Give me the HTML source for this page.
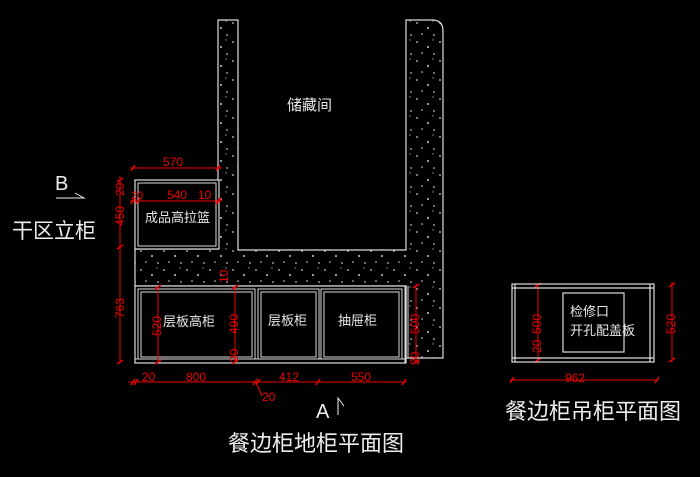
<!DOCTYPE html>
<html><head><meta charset="utf-8"><style>
html,body{margin:0;padding:0;background:#000;}
svg{display:block}
text{font-family:"Liberation Sans","Noto Sans CJK SC",sans-serif;}
</style></head><body>
<svg width="700" height="477" viewBox="0 0 700 477" xmlns="http://www.w3.org/2000/svg">
<defs>
<pattern id="h" width="23" height="19" patternUnits="userSpaceOnUse">
<rect width="23" height="19" fill="#000"/>
<circle cx="3" cy="4" r="0.9" fill="#ccc"/>
<circle cx="14" cy="9" r="1.1" fill="#aaa"/>
<circle cx="8" cy="15" r="0.8" fill="#ddd"/>
<circle cx="19" cy="2" r="0.7" fill="#999"/>
<circle cx="20" cy="16" r="0.9" fill="#bbb"/>
</pattern>
</defs>
<rect width="700" height="477" fill="#000"/>
<!-- hatched walls -->
<path d="M218 20 H238 V250 H406 V20 H432 Q443 20 443 31 V358 H406 V286 H135 V249 H218 Z" fill="url(#h)" stroke="#ddd" stroke-width="1.2"/>
<!-- tall basket cabinet -->
<rect x="135" y="180" width="84" height="69" fill="#000" stroke="#ddd" stroke-width="1.2"/>
<rect x="138" y="183" width="78" height="63" fill="none" stroke="#ddd" stroke-width="1"/>
<!-- base cabinets -->
<rect x="135" y="286" width="271" height="77" fill="#000" stroke="#ddd" stroke-width="1.2"/>
<g fill="none" stroke="#ddd" stroke-width="1">
<rect x="138" y="289" width="117" height="70"/>
<rect x="141" y="292" width="111" height="65"/>
<rect x="258" y="289" width="61" height="70"/>
<rect x="261" y="292" width="55" height="65"/>
<rect x="321" y="289" width="81" height="70"/>
<rect x="324" y="292" width="75" height="65"/>
<line x1="405" y1="286" x2="405" y2="363"/>
<line x1="408" y1="286" x2="408" y2="358"/>
<line x1="135" y1="359" x2="406" y2="359"/>
</g>
<g fill="#e8e8e8" font-size="13">
<text x="145" y="222">成品高拉篮</text>
<text x="163" y="326">层板高柜</text>
<text x="268" y="325">层板柜</text>
<text x="338" y="325">抽屉柜</text>
<text x="287" y="110" font-size="15">储藏间</text>
</g>
<!-- red dims -->
<g stroke="#e00" stroke-width="1" fill="none">
<line x1="130" y1="168" x2="222" y2="168"/>
<line x1="130" y1="201" x2="222" y2="201"/>
<line x1="120" y1="176" x2="120" y2="363"/>
<line x1="158" y1="286" x2="158" y2="363"/>
<line x1="235" y1="286" x2="235" y2="363"/>
<line x1="416" y1="284" x2="416" y2="362"/>
<line x1="128" y1="382" x2="407" y2="382"/>
<line x1="256" y1="382" x2="262" y2="396"/>
<line x1="538" y1="284" x2="538" y2="362"/>
<line x1="672" y1="282" x2="672" y2="362"/>
<line x1="510" y1="380" x2="658" y2="380"/>
<g stroke-width="1.5">
<path d="M131 171l4-6M216 171l4-6M131 204l4-6M136 204l4-6M216 204l4-6M217 204l4-6"/>
<path d="M117 182l6-4M117 249l6-4M117 364l6-4M155 289l6-4M155 364l6-4M232 289l6-4M232 364l6-4M413 288l6-4M413 364l6-4"/>
<path d="M131 385l4-6M134 385l4-6M253 385l4-6M256 385l4-6M316 385l4-6M402 385l4-6"/>
<path d="M535 287l6-4M535 362l6-4M669 287l6-4M669 362l6-4M510 383l4-6M655 383l4-6"/>
</g>
</g>
<g fill="#e00" font-size="12">
<text x="163" y="166">570</text>
<text x="131" y="199" font-size="11">20</text>
<text x="167" y="199">540</text>
<text x="198" y="199">10</text>
<text x="142" y="381">20</text>
<text x="186" y="381">800</text>
<text x="279" y="381">412</text>
<text x="351" y="381">550</text>
<text x="262" y="401">20</text>
<text x="565" y="382">962</text>
<g font-size="12">
<text transform="translate(124,196) rotate(-90)">20</text>
<text transform="translate(124,226) rotate(-90)">450</text>
<text transform="translate(124,318) rotate(-90)">763</text>
<text transform="translate(161,336) rotate(-90)">520</text>
<text transform="translate(238,334) rotate(-90)">490</text>
<text transform="translate(228,283) rotate(-90)">10</text>
<text transform="translate(238,362) rotate(-90)">20</text>
<text transform="translate(419,334) rotate(-90)">500</text>
<text transform="translate(419,365) rotate(-90)">20</text>
<text transform="translate(541,334) rotate(-90)">500</text>
<text transform="translate(541,353) rotate(-90)">20</text>
<text transform="translate(675,334) rotate(-90)">520</text>
</g>
</g>
<!-- hanging cabinet -->
<g fill="none" stroke="#ddd" stroke-width="1.2">
<rect x="512" y="284" width="142" height="78"/>
<line x1="512" y1="288" x2="654" y2="288"/>
<line x1="515" y1="284" x2="515" y2="362"/>
<line x1="650" y1="284" x2="650" y2="362"/>
<line x1="512" y1="358" x2="654" y2="358"/>
<rect x="563" y="293" width="61" height="59"/>
</g>
<g fill="#e8e8e8" font-size="13">
<text x="570" y="316">检修口</text>
<text x="570" y="335">开孔配盖板</text>
</g>
<!-- labels -->
<g fill="#eee">
<text x="55" y="190" font-size="20" font-family="Liberation Serif,serif">B</text>
<text x="12" y="238" font-size="21">干区立柜</text>
<text x="316" y="418" font-size="20" font-family="Liberation Serif,serif">A</text>
<text x="228" y="451" font-size="22">餐边柜地柜平面图</text>
<text x="505" y="419" font-size="22">餐边柜吊柜平面图</text>
</g>
<g stroke="#eee" stroke-width="1" fill="none">
<path d="M56 198H84L75 193"/>
<path d="M338 415V398L344 406"/>
</g>
</svg>
</body></html>
